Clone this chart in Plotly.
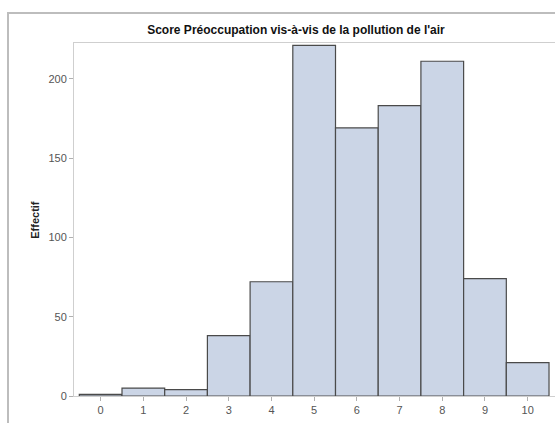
import plotly.graph_objects as go

# score categories and counts
scores = [0, 1, 2, 3, 4, 5, 6, 7, 8, 9, 10]
effectifs = [1, 5, 4, 38, 72, 221, 169, 183, 211, 74, 21]
y_ticks = [0, 50, 100, 150, 200]

titre = "Score Préoccupation vis-à-vis de la pollution de l'air"
axe_y = "Effectif"

W, H = 555, 423
L, T, R, B = 74, 43, 0, 26.5
pw, ph = W - L - R, H - T - B

fig = go.Figure(go.Bar(
    x=scores, y=effectifs, width=1,
    marker=dict(color="#CBD5E6", line=dict(color="#4a4a4a", width=1.2)),
))

axis_common = dict(
    showgrid=False, zeroline=False, showline=True, linecolor="#cfcfcf",
    linewidth=1, mirror=True, ticks="outside", ticklen=4, tickcolor="#b0b0b0",
    tickfont=dict(family="Liberation Sans", size=11, color="#555555"),
)
fig.update_xaxes(range=[-0.624, 10.64], tickvals=scores, **axis_common)
fig.update_yaxes(range=[0, 222.5], tickvals=y_ticks, **axis_common)

# outer graph frame
fig.add_shape(type="rect", xref="paper", yref="paper",
              x0=(8 - L) / pw, x1=1.2, y0=-0.3, y1=(H - B - 13) / ph,
              line=dict(color="#bdbdbd", width=2), layer="below")

fig.add_annotation(text=axe_y, xref="paper", yref="paper",
                   x=(27 - L) / pw, y=(H - B - 220) / ph, textangle=-90,
                   showarrow=False,
                   font=dict(family="Liberation Sans", size=11, color="#222222", weight="bold"))

fig.update_layout(
    width=W, height=H, margin=dict(l=L, t=T, r=R, b=B),
    paper_bgcolor="white", plot_bgcolor="white", showlegend=False,
    title=dict(text=titre, x=296 / W, xanchor="center", y=1 - 30 / H, yanchor="middle",
               font=dict(family="Liberation Sans", size=12, color="#111111", weight="bold")),
)

# page body has an 8px default margin; drop it so the figure fills the window
fig.write_html("out.html", config={"displayModeBar": False},
               post_script="document.body.style.margin='0';document.body.style.overflow='hidden';")
